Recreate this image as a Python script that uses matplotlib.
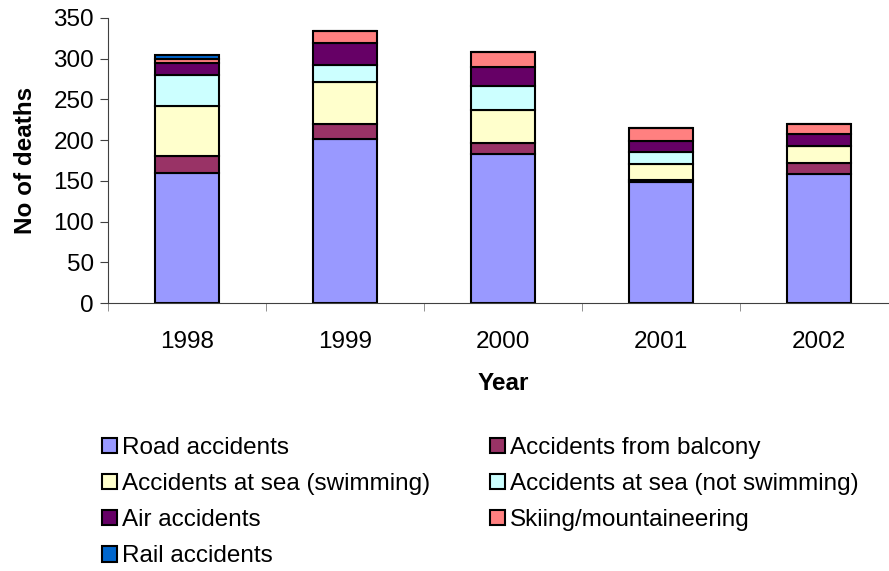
import matplotlib
matplotlib.use("Agg")
import matplotlib.pyplot as plt
import numpy as np

plt.rcParams['font.family'] = ['Liberation Sans', 'DejaVu Sans']

years = ['1998', '1999', '2000', '2001', '2002']
road = [160, 202, 183, 148, 158]
balcony = [20, 18, 14, 3, 14]
sea_swim = [62, 51, 40, 20, 21]
sea_not_swim = [38, 21, 30, 15, 0]
air = [15, 27, 23, 13, 15]
skiing = [5, 15, 18, 16, 12]
rail = [4, 0, 0, 0, 0]

series = [
    ('Road accidents', road, '#9999FF'),
    ('Accidents from balcony', balcony, '#993366'),
    ('Accidents at sea (swimming)', sea_swim, '#FFFFCC'),
    ('Accidents at sea (not swimming)', sea_not_swim, '#CCFFFF'),
    ('Air accidents', air, '#660066'),
    ('Skiing/mountaineering', skiing, '#FF8080'),
    ('Rail accidents', rail, '#0066CC'),
]

fs = 17.5

fig = plt.figure(figsize=(8.89, 5.71), dpi=100)
ax = fig.add_axes([108 / 889, 1 - 303 / 571, 790 / 889, 285 / 571])

x = np.arange(len(years))
bottom = np.zeros(len(years))
handles = {}
for name, vals, col in series:
    vals = np.array(vals, dtype=float)
    bars = ax.bar(x, vals, 0.4, bottom=bottom, color=col, edgecolor='black',
                  linewidth=1.5, label=name)
    handles[name] = bars
    bottom += vals

ax.set_xlim(-0.5, len(years) - 0.5)
ax.set_ylim(0, 350)
ax.set_yticks(range(0, 351, 50))
ax.set_xticks(x)
ax.set_xticklabels(years)
ax.set_xticks(np.arange(-0.5, len(years), 1), minor=True)
ax.tick_params(axis='x', which='major', length=0, pad=20, labelsize=fs)
ax.tick_params(axis='x', which='minor', length=6, color='#808080')
ax.tick_params(axis='y', length=6, labelsize=fs, color='#404040', pad=4)
for s in ['top', 'right']:
    ax.spines[s].set_visible(False)
ax.spines['left'].set_color('#404040')
ax.spines['bottom'].set_color('#404040')

ax.set_xlabel('Year', fontsize=fs, fontweight='bold', labelpad=14)
ax.set_ylabel('No of deaths', fontsize=fs, fontweight='bold', labelpad=12)

order = ['Road accidents', 'Accidents at sea (swimming)', 'Air accidents',
         'Rail accidents', 'Accidents from balcony',
         'Accidents at sea (not swimming)', 'Skiing/mountaineering']
leg = fig.legend([handles[n] for n in order], order, ncol=2,
                 loc='upper left', bbox_to_anchor=(90 / 889, 1 - 425 / 571),
                 frameon=False, fontsize=fs, handlelength=0.6, handleheight=0.6,
                 handletextpad=0.2, columnspacing=2.5, labelspacing=0.58,
                 borderpad=0)

fig.savefig('out.png', dpi=100)
